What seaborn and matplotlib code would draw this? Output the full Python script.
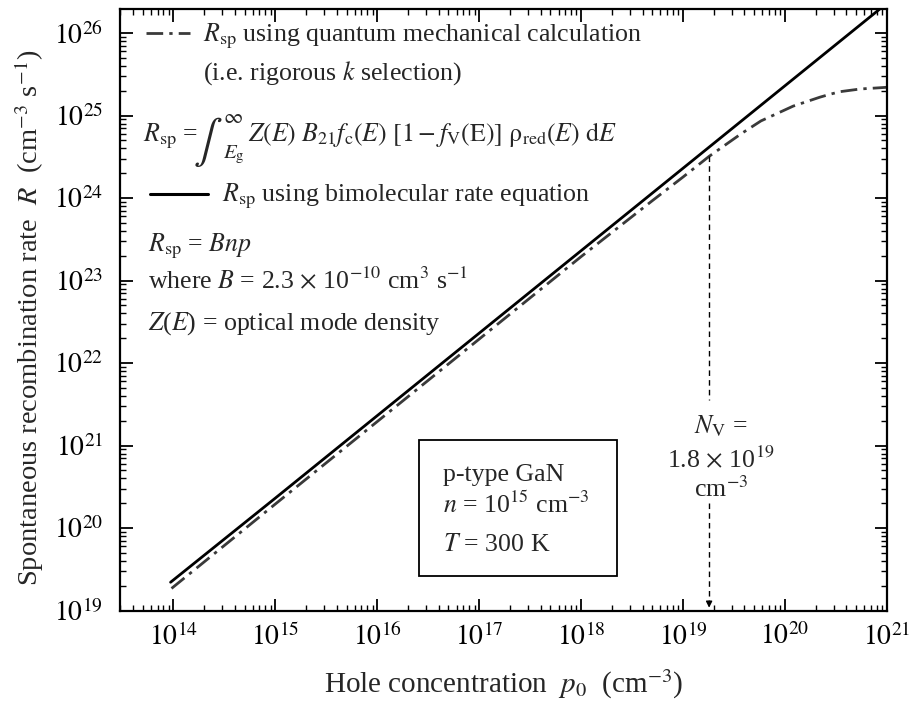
import numpy as np
import pandas as pd
import matplotlib
matplotlib.use("Agg")
import matplotlib.pyplot as plt
import seaborn as sns
from matplotlib.lines import Line2D
from matplotlib.patches import Rectangle
from matplotlib.ticker import LogLocator, NullFormatter, FixedLocator

# ---------------- data ----------------
p_bimolecular = [9.4e13, 1e15, 1e16, 1e17, 1e18, 1e19, 1e20, 1e21]
R_bimolecular = [2.2e19, 2.3e20, 2.3e21, 2.3e22, 2.3e23, 2.3e24, 2.3e25, 2.3e26]

p_quantum = [9.6e13, 1e15, 1e16, 1e17, 1e18, 5e18, 1e19, 1.8e19, 3.7e19,
             5.8e19, 1.2e20, 2.2e20, 2.8e20, 3.5e20, 5.5e20, 7.5e20, 1e21]
R_quantum = [1.85e19, 1.95e20, 1.95e21, 1.95e22, 1.95e23, 9.3e23, 1.8e24, 3.2e24, 6.0e24,
             8.6e24, 1.3e25, 1.67e25, 1.82e25, 1.95e25, 2.1e25, 2.15e25, 2.2e25]

N_V = 1.8e19
R_at_NV = 3.2e24

x_ticks = [1e14, 1e15, 1e16, 1e17, 1e18, 1e19, 1e20, 1e21]
x_ticklabels = [r"$10^{14}$", r"$10^{15}$", r"$10^{16}$", r"$10^{17}$",
                r"$10^{18}$", r"$10^{19}$", r"$10^{20}$", r"$10^{21}$"]
y_ticks = [1e19, 1e20, 1e21, 1e22, 1e23, 1e24, 1e25, 1e26]
y_ticklabels = [r"$10^{19}$", r"$10^{20}$", r"$10^{21}$", r"$10^{22}$",
                r"$10^{23}$", r"$10^{24}$", r"$10^{25}$", r"$10^{26}$"]

df = pd.concat([
    pd.DataFrame({"p": p_quantum, "R": R_quantum, "model": "quantum"}),
    pd.DataFrame({"p": p_bimolecular, "R": R_bimolecular, "model": "bimolecular"}),
], ignore_index=True)

# ---------------- style ----------------
sns.set_theme(style="ticks")
plt.rcParams["font.family"] = ["Liberation Serif", "DejaVu Serif"]
plt.rcParams["mathtext.fontset"] = "stix"

W, H = 915, 713
fig = plt.figure(figsize=(W / 100, H / 100), dpi=100)
ax = fig.add_axes([120 / W, 1 - 610.5 / H, (887 - 120) / W, (610.5 - 9.3) / H])
ax.set_xscale("log")
ax.set_yscale("log")

sns.lineplot(data=df, x="p", y="R", hue="model", style="model",
             palette={"quantum": "#3a3a3a", "bimolecular": "black"},
             dashes={"quantum": (6, 2.2, 1.2, 2.2), "bimolecular": ""},
             linewidth=2.0, estimator=None, sort=False, legend=False, ax=ax)

ax.set_xlim(3.0e13, 1e21)
ax.set_ylim(1e19, 1.94e26)

ax.xaxis.set_major_locator(FixedLocator(x_ticks))
ax.set_xticklabels(x_ticklabels)
ax.yaxis.set_major_locator(FixedLocator(y_ticks))
ax.set_yticklabels(y_ticklabels)
ax.xaxis.set_minor_locator(LogLocator(base=10, subs=np.arange(2, 10), numticks=100))
ax.yaxis.set_minor_locator(LogLocator(base=10, subs=np.arange(2, 10), numticks=100))
ax.xaxis.set_minor_formatter(NullFormatter())
ax.yaxis.set_minor_formatter(NullFormatter())

ax.tick_params(which="both", direction="in", top=True, right=True, colors="black")
ax.tick_params(which="major", length=9, width=1.3, labelsize=20)
ax.tick_params(which="minor", length=4.5, width=1.0)
ax.tick_params(axis="x", which="major", pad=9)
ax.tick_params(axis="y", which="major", pad=12)
for s in ax.spines.values():
    s.set_linewidth(1.6)
    s.set_color("black")

ax.set_xlabel(r"Hole concentration  $p_0$  (cm$^{-3}$)", fontsize=21, labelpad=12)
ax.set_ylabel(r"Spontaneous recombination rate  $R$  (cm$^{-3}$ s$^{-1}$)", fontsize=20.5)
ax.yaxis.set_label_coords(-0.097, 0.487)

# ---------------- annotations ----------------
def fx(x):
    return x / W

def fy(y):
    return 1 - y / H

fs = 18.6
fig.add_artist(Line2D([fx(146), fx(190)], [fy(33), fy(33)], color="#3a3a3a", lw=2.0,
                      dashes=(6, 2.2, 1.2, 2.2), transform=fig.transFigure))
fig.text(fx(203), fy(41), r"$R_{\rm sp}$ using quantum mechanical calculation", fontsize=fs, va="baseline")
fig.text(fx(203), fy(80), r"(i.e. rigorous $k$ selection)", fontsize=fs, va="baseline")

# integral formula built from pieces so the integral sign can be tall
fig.text(fx(143), fy(141), r"$R_{\rm sp}$ =", fontsize=fs, va="baseline")
fig.text(fx(193), fy(153), r"$\int$", fontsize=31, va="baseline")
fig.text(fx(223), fy(123), r"$\infty$", fontsize=15, va="baseline")
fig.text(fx(223), fy(158), r"$E_{\rm g}$", fontsize=15, va="baseline")
fig.text(fx(248), fy(141),
         r"$Z(E)\ B_{21}f_{\rm c}(E)\ [1 - f_{\rm V}(\mathrm{E})]\ \mathrm{\rho}_{\rm red}(E)\ \mathrm{d}E$",
         fontsize=fs, va="baseline")

fig.add_artist(Line2D([fx(150), fx(208)], [fy(194), fy(194)], color="black", lw=2.2,
                      transform=fig.transFigure))
fig.text(fx(222), fy(201), r"$R_{\rm sp}$ using bimolecular rate equation", fontsize=fs, va="baseline")
fig.text(fx(148), fy(251), r"$R_{\rm sp}$ = $Bnp$", fontsize=fs, va="baseline")
fig.text(fx(148), fy(288), r"where $B$ = 2.3 $\times$ 10$^{-10}$ cm$^3$ s$^{-1}$", fontsize=fs, va="baseline")
fig.text(fx(148), fy(330), r"$Z$($E$) = optical mode density", fontsize=fs, va="baseline")

# parameter box
fig.add_artist(Rectangle((fx(419), fy(576)), fx(617) - fx(419), fy(440) - fy(576),
                         fill=False, edgecolor="black", lw=1.3, transform=fig.transFigure))
fig.text(fx(443), fy(481), "p-type GaN", fontsize=fs, va="baseline")
fig.text(fx(443), fy(513), r"$n$ = 10$^{15}$ cm$^{-3}$", fontsize=fs, va="baseline")
fig.text(fx(443), fy(551), r"$T$ = 300 K", fontsize=fs, va="baseline")

# N_V marker
ax.plot([N_V, N_V], [R_at_NV, 3.6e21], color="black", lw=1.0, dashes=(4, 3))
ax.plot([N_V, N_V], [2.0e20, 1.25e19], color="black", lw=1.0, dashes=(4, 3))
ax.annotate("", xy=(N_V, 1e19), xytext=(N_V, 1.4e19),
            arrowprops=dict(arrowstyle="-|>", color="black", lw=1.0, mutation_scale=9))
fig.text(fx(721), fy(433), r"$N_{\rm V}$ =", fontsize=fs, va="baseline", ha="center")
fig.text(fx(721), fy(467), r"1.8 $\times$ 10$^{19}$", fontsize=fs, va="baseline", ha="center")
fig.text(fx(721), fy(497), r"cm$^{-3}$", fontsize=fs, va="baseline", ha="center")

fig.savefig("out.png", dpi=100)
